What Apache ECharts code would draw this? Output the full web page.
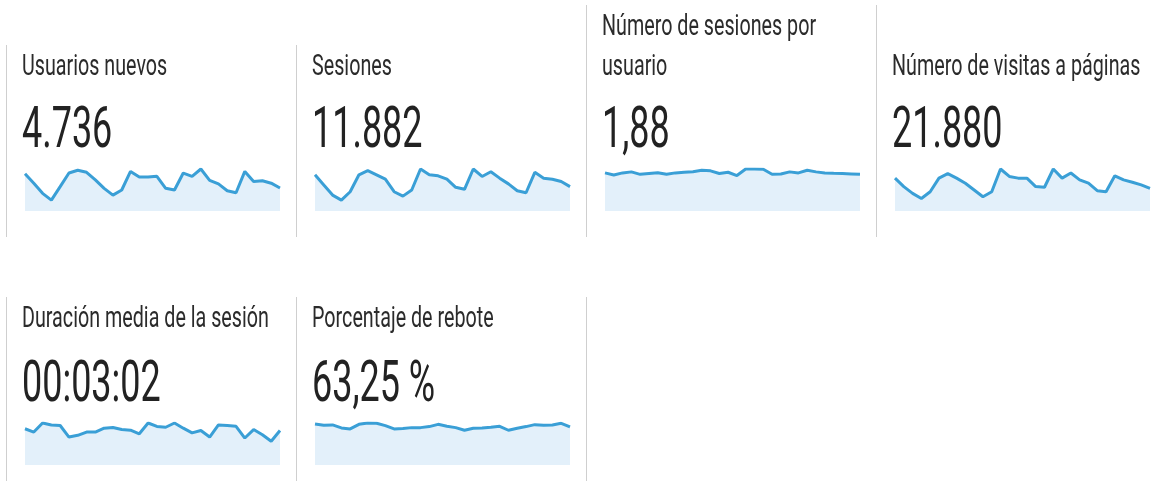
<!DOCTYPE html>
<html>
<head>
<meta charset="utf-8">
<script src="https://cdn.jsdelivr.net/npm/echarts@6/dist/echarts.min.js"></script>
<style>
  html, body { margin: 0; padding: 0; background: #fff; }
  #main { width: 1156px; height: 481px; }
</style>
</head>
<body>
<div id="main"></div>
<script>
// titulos y valores de cada tarjeta
var titles = ["Usuarios nuevos", "Sesiones", "Número de sesiones por\nusuario", "Número de visitas a páginas", "Duración media de la sesión", "Porcentaje de rebote"];
var totals = ["4.736", "11.882", "1,88", "21.880", "00:03:02", "63,25 %"];
var days = [];
for (var d = 1; d <= 30; d++) days.push(d);

// series diarias (estimadas del grafico)
var usuariosNuevos = [202, 151, 96, 59, 132, 206, 221, 210, 169, 123, 86, 114, 215, 184, 184, 188, 123, 114, 206, 188, 228, 166, 147, 110, 99, 215, 160, 164, 151, 125];
var sesiones = [494, 356, 217, 148, 263, 494, 550, 494, 434, 263, 203, 286, 573, 494, 480, 434, 323, 296, 573, 471, 536, 448, 370, 277, 249, 527, 448, 434, 402, 333];
var sesionesPorUsuario = [1.86, 1.76, 1.86, 1.91, 1.79, 1.83, 1.87, 1.79, 1.86, 1.89, 1.92, 1.99, 1.96, 1.83, 1.89, 1.73, 2.05, 2.05, 2.04, 1.79, 1.81, 1.91, 1.86, 1.99, 1.91, 1.86, 1.84, 1.83, 1.81, 1.79];
var visitasPaginas = [858, 637, 460, 327, 504, 858, 974, 858, 726, 549, 372, 504, 1097, 903, 858, 858, 637, 620, 1097, 858, 991, 814, 726, 531, 504, 920, 814, 752, 681, 593];
var duracionMedia = [188, 171, 218, 208, 205, 145, 154, 171, 171, 191, 195, 184, 181, 162, 218, 200, 196, 218, 191, 167, 179, 145, 208, 205, 201, 140, 184, 157, 123, 179];
var porcentajeRebote = [67.4, 65.2, 65.8, 60.9, 59.3, 66.8, 69.0, 68.5, 64.7, 59.3, 59.8, 61.4, 61.4, 63.1, 66.8, 63.6, 61.4, 57.1, 60.4, 60.9, 62.0, 63.6, 57.1, 60.4, 63.1, 66.3, 65.2, 65.8, 68.5, 62.5];

var seriesData = [usuariosNuevos, sesiones, sesionesPorUsuario, visitasPaginas, duracionMedia, porcentajeRebote];

var myChart = echarts.init(document.getElementById("main"));

var cardX = [0, 290, 580, 870, 0, 290];
var rowY = [0, 0, 0, 0, 252, 252];

var grids = [], xAxes = [], yAxes = [], series = [], graphics = [];

seriesData.forEach(function (data, i) {
  var ox = cardX[i];
  var oy = rowY[i];
  grids.push({
    left: ox + 25,
    top: (i < 4 ? 169 : 423),
    width: 255,
    height: 42
  });
  xAxes.push({
    type: "category",
    gridIndex: i,
    data: days,
    boundaryGap: false,
    show: false
  });
  yAxes.push({
    type: "value",
    gridIndex: i,
    min: 0,
    max: "dataMax",
    show: false
  });
  series.push({
    type: "line",
    xAxisIndex: i,
    yAxisIndex: i,
    data: data,
    symbol: "none",
    silent: true,
    lineStyle: { color: "#3a9fd6", width: 3 },
    areaStyle: { color: "#e3f0fa", opacity: 1 }
  });

  var multi = titles[i].indexOf("\n") >= 0;
  graphics.push({
    type: "text",
    x: ox + 22,
    y: oy + (multi ? 8 : 48),
    scaleX: 0.68,
    style: {
      text: titles[i],
      font: "29px Roboto",
      fill: "#2b2b2b",
      lineHeight: 40,
      verticalAlign: "top"
    }
  });
  graphics.push({
    type: "text",
    x: ox + 22,
    y: oy + 103 + (i < 4 ? 0 : 2),
    scaleX: 0.62,
    style: {
      text: totals[i],
      font: "58px Roboto",
      fill: "#222",
      verticalAlign: "top"
    }
  });
});

// separadores verticales
var dividers = [
  [6, 45, 237], [296, 45, 237], [586, 5, 237], [876, 5, 237],
  [6, 297, 481], [296, 297, 481], [586, 297, 481]
];
dividers.forEach(function (dv) {
  graphics.push({
    type: "line",
    shape: { x1: dv[0] + 0.5, y1: dv[1], x2: dv[0] + 0.5, y2: dv[2] },
    style: { stroke: "#cfcfcf", lineWidth: 1 }
  });
});

var option = {
  backgroundColor: "#fff",
  animation: false,
  grid: grids,
  xAxis: xAxes,
  yAxis: yAxes,
  series: series,
  graphic: graphics
};
myChart.setOption(option);
</script>
</body>
</html>
